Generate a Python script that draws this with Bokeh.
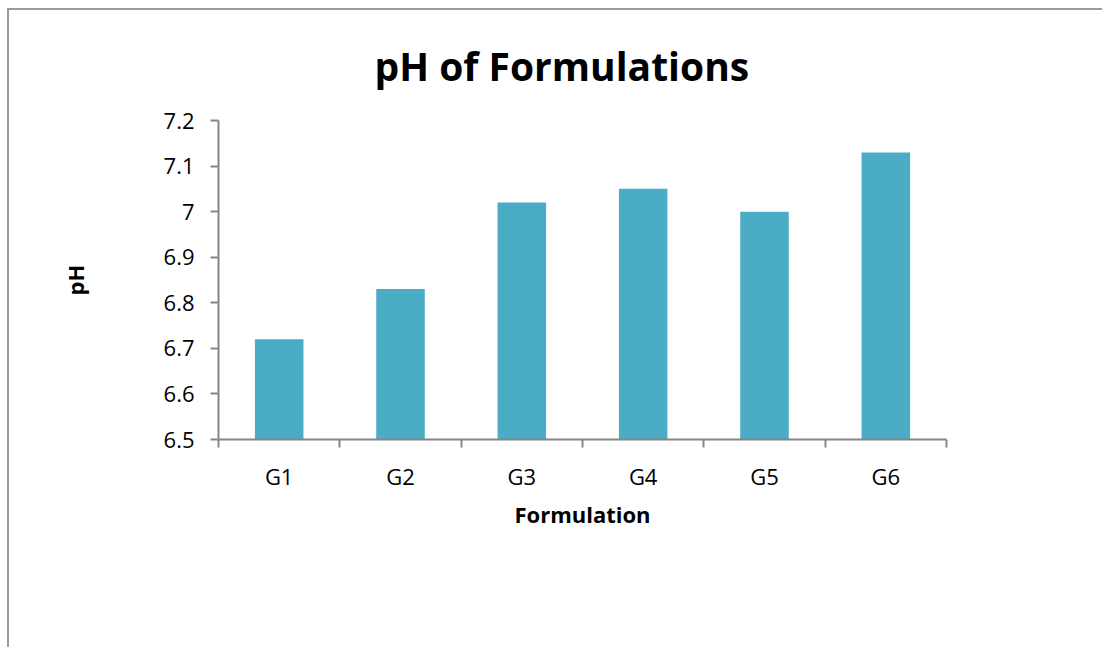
from bokeh.plotting import figure
from bokeh.models import FixedTicker, Title, ColumnDataSource
from bokeh.embed import file_html
from bokeh.resources import INLINE

categories = ["G1", "G2", "G3", "G4", "G5", "G6"]
ph_values = [6.72, 6.83, 7.02, 7.05, 7.00, 7.13]
y_ticks = [6.5, 6.6, 6.7, 6.8, 6.9, 7.0, 7.1, 7.2]
y_tick_labels = ["6.5", "6.6", "6.7", "6.8", "6.9", "7", "7.1", "7.2"]
title_text = "pH of Formulations"

FONT = "Open Sans"
AXIS_GRAY = "#868686"

centers = [i + 0.5 for i in range(len(categories))]
src = ColumnDataSource(dict(x=centers, top=ph_values, cat=categories))

p = figure(width=1095, height=639, output_backend="svg", toolbar_location=None,
           x_range=(0, len(categories)), y_range=(y_ticks[0], y_ticks[-1]),
           min_border_left=209, min_border_right=158, min_border_top=110, min_border_bottom=210)
p.styles = {"margin-left": "7px", "margin-top": "8px",
            "border-left": "2px solid #9a9a9a", "border-top": "2px solid #9a9a9a"}

p.vbar(x="x", top="top", bottom=y_ticks[0], width=0.4, source=src,
       fill_color="#4BACC6", line_color=None)

p.xgrid.visible = False
p.ygrid.visible = False
p.outline_line_color = None
p.background_fill_color = "white"
p.border_fill_color = "white"

# x axis
xa = p.xaxis[0]
xa.ticker = FixedTicker(ticks=centers, minor_ticks=list(range(len(categories) + 1)))
xa.major_label_overrides = {c: lab for c, lab in zip(centers, categories)}
xa.major_tick_out = 0
xa.major_tick_in = 0
xa.minor_tick_out = 8
xa.minor_tick_in = 0
xa.minor_tick_line_color = AXIS_GRAY
xa.minor_tick_line_width = 2
xa.axis_line_color = AXIS_GRAY
xa.axis_line_width = 2
xa.major_label_text_font = FONT
xa.major_label_text_font_size = "22px"
xa.major_label_text_color = "black"
xa.major_label_standoff = 13
xa.axis_label = "Formulation"
xa.axis_label_text_font = FONT
xa.axis_label_text_font_style = "bold"
xa.axis_label_text_font_size = "22px"
xa.axis_label_text_color = "black"
xa.axis_label_standoff = 5

# y axis
ya = p.yaxis[0]
ya.ticker = FixedTicker(ticks=y_ticks, minor_ticks=[])
ya.major_label_overrides = {t: lab for t, lab in zip(y_ticks, y_tick_labels)}
ya.major_tick_out = 8
ya.major_tick_in = 0
ya.major_tick_line_color = AXIS_GRAY
ya.major_tick_line_width = 2
ya.axis_line_color = AXIS_GRAY
ya.axis_line_width = 2
ya.major_label_text_font = FONT
ya.major_label_text_font_size = "22px"
ya.major_label_text_color = "black"
ya.major_label_standoff = 16
ya.axis_label = "pH"
ya.axis_label_text_font = FONT
ya.axis_label_text_font_style = "bold"
ya.axis_label_text_font_size = "22px"
ya.axis_label_text_color = "black"
ya.axis_label_standoff = 71

p.title = Title(text=title_text, align="left", text_font=FONT,
                text_font_style="bold", text_font_size="39px", text_color="black",
                vertical_align="top", standoff=54, offset=156)

open("out.html", "w").write(file_html(p, INLINE))
